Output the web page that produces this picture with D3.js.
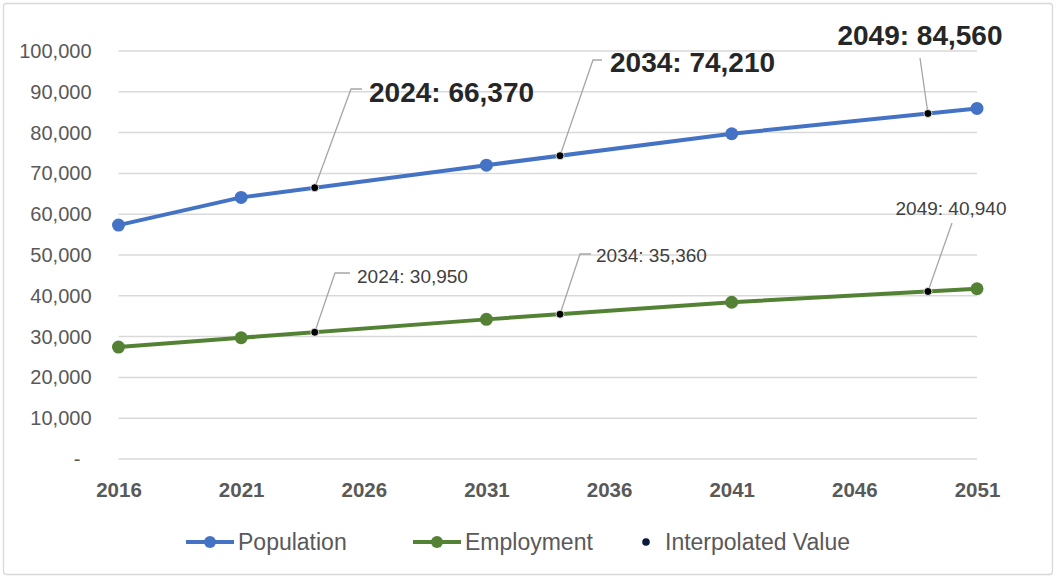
<!DOCTYPE html>
<html>
<head>
<meta charset="utf-8">
<script src="https://cdn.jsdelivr.net/npm/d3@7"></script>
<style>
  html, body { margin: 0; padding: 0; background: #fff; }
  svg { display: block; }
</style>
</head>
<body>
<svg id="chart" width="1056" height="578"></svg>
<script>
// Census / projection years
const years = [2016, 2021, 2031, 2041, 2051];
const population = [57200, 64000, 71900, 79600, 85800];
const employment = [27300, 29600, 34100, 38300, 41600];

// Interpolated values shown as callouts
const interpYears = [2024, 2034, 2049];
const popInterp = [66370, 74210, 84560];
const empInterp = [30950, 35360, 40940];

const xTicks = [2016, 2021, 2026, 2031, 2036, 2041, 2046, 2051];
const yTicks = [0, 10000, 20000, 30000, 40000, 50000, 60000, 70000, 80000, 90000, 100000];

const seriesNames = ["Population", "Employment", "Interpolated Value"];

const svg = d3.select("#chart");
const W = 1056, H = 578;

const x = d3.scaleLinear().domain([2016, 2051]).range([118.5, 977]);
const y = d3.scaleLinear().domain([0, 100000]).range([458.5, 50.5]);

const BLUE = "#4472C4", GREEN = "#548235";
const FONT = "'Liberation Sans', Arial, sans-serif";

// outer frame
svg.append("rect")
  .attr("x", 3.5).attr("y", 3.5).attr("width", W - 7).attr("height", H - 7)
  .attr("rx", 3).attr("fill", "#fff").attr("stroke", "#d9d9d9").attr("stroke-width", 1.3);

// gridlines
const yAxis = d3.axisLeft(y).tickValues(yTicks).tickSize(-(x.range()[1] - x.range()[0]))
  .tickFormat(d => d === 0 ? "-" : d3.format(",")(d));
const gy = svg.append("g").attr("transform", `translate(${x.range()[0]},0)`).call(yAxis);
gy.select(".domain").remove();
gy.selectAll(".tick line").attr("stroke", "#d9d9d9").attr("stroke-width", 1.5);
gy.selectAll(".tick text")
  .attr("x", -27)
  .attr("fill", "#595959")
  .style("font-family", FONT).style("font-size", "20px")
  .attr("dy", "0.35em");
gy.selectAll(".tick text").filter(d => d === 0).attr("x", -38);

// x axis labels
const xAxis = d3.axisBottom(x).tickValues(xTicks).tickSize(0).tickFormat(d3.format("d"));
const gx = svg.append("g").attr("transform", `translate(0,${y(0)})`).call(xAxis);
gx.select(".domain").remove();
gx.selectAll(".tick text")
  .attr("y", 31).attr("dy", "0.35em")
  .attr("fill", "#595959")
  .style("font-family", FONT).style("font-size", "20.5px").style("font-weight", "bold");

const line = d3.line().x(d => x(d[0])).y(d => y(d[1]));

function drawSeries(vals, color) {
  const pts = years.map((yr, i) => [yr, vals[i]]);
  svg.append("path").datum(pts).attr("d", line)
    .attr("fill", "none").attr("stroke", color).attr("stroke-width", 4)
    .attr("stroke-linejoin", "round");
  svg.selectAll(null).data(pts).enter().append("circle")
    .attr("cx", d => x(d[0])).attr("cy", d => y(d[1])).attr("r", 6.5)
    .attr("fill", color);
}
drawSeries(population, BLUE);
drawSeries(employment, GREEN);

// callout label layout: text anchor point and leader elbow
const popLabels = [
  { tx: 369, ty: 92, elbow: [[351, 89], [362, 89]], size: 28, bold: true, anchor: "start" },
  { tx: 610, ty: 62, elbow: [[593, 60], [602, 60]], size: 28, bold: true, anchor: "start" },
  { tx: 920, ty: 35, elbow: [[920, 58]], size: 28, bold: true, anchor: "middle" }
];
const empLabels = [
  { tx: 357, ty: 276, elbow: [[335, 273], [350, 273]], size: 19, bold: false, anchor: "start" },
  { tx: 596, ty: 255, elbow: [[580, 254], [591, 254]], size: 19, bold: false, anchor: "start" },
  { tx: 951, ty: 208, elbow: [[952, 223]], size: 19, bold: false, anchor: "middle" }
];

function drawCallouts(vals, layout) {
  interpYears.forEach((yr, i) => {
    const L = layout[i];
    const px = x(yr), py = y(vals[i]);
    const pts = [[px, py]].concat(L.elbow);
    svg.append("path").attr("d", d3.line()(pts))
      .attr("fill", "none").attr("stroke", "#a6a6a6").attr("stroke-width", 1.3);
    svg.append("text")
      .attr("x", L.tx).attr("y", L.ty).attr("dy", "0.35em")
      .attr("text-anchor", L.anchor)
      .attr("fill", L.bold ? "#262626" : "#404040")
      .style("font-family", FONT).style("font-size", L.size + "px")
      .style("font-weight", L.bold ? "bold" : "normal")
      .text(`${yr}: ${d3.format(",")(vals[i])}`);
  });
}
drawCallouts(popInterp, popLabels);
drawCallouts(empInterp, empLabels);

// interpolated markers
function drawInterp(vals) {
  svg.selectAll(null).data(interpYears.map((yr, i) => [yr, vals[i]])).enter().append("circle")
    .attr("cx", d => x(d[0])).attr("cy", d => y(d[1])).attr("r", 4)
    .attr("fill", "#000").attr("stroke", "#fff").attr("stroke-width", 0.8);
}
drawInterp(popInterp);
drawInterp(empInterp);

// legend
const legend = svg.append("g").style("font-family", FONT).style("font-size", "23px");
const legY = 542;
const legItems = [
  { name: seriesNames[0], color: BLUE, x0: 186, type: "line" },
  { name: seriesNames[1], color: GREEN, x0: 413, type: "line" },
  { name: seriesNames[2], color: "#0b1a3a", x0: 642, type: "dot" }
];
legItems.forEach(it => {
  if (it.type === "line") {
    legend.append("line").attr("x1", it.x0).attr("x2", it.x0 + 48)
      .attr("y1", legY).attr("y2", legY).attr("stroke", it.color).attr("stroke-width", 4);
    legend.append("circle").attr("cx", it.x0 + 24).attr("cy", legY).attr("r", 6).attr("fill", it.color);
    legend.append("text").attr("x", it.x0 + 52).attr("y", legY).attr("dy", "0.35em")
      .attr("fill", "#595959").text(it.name);
  } else {
    legend.append("circle").attr("cx", it.x0 + 4).attr("cy", legY).attr("r", 3.8).attr("fill", it.color);
    legend.append("text").attr("x", it.x0 + 23).attr("y", legY).attr("dy", "0.35em")
      .attr("fill", "#595959").text(it.name);
  }
});
</script>
</body>
</html>
